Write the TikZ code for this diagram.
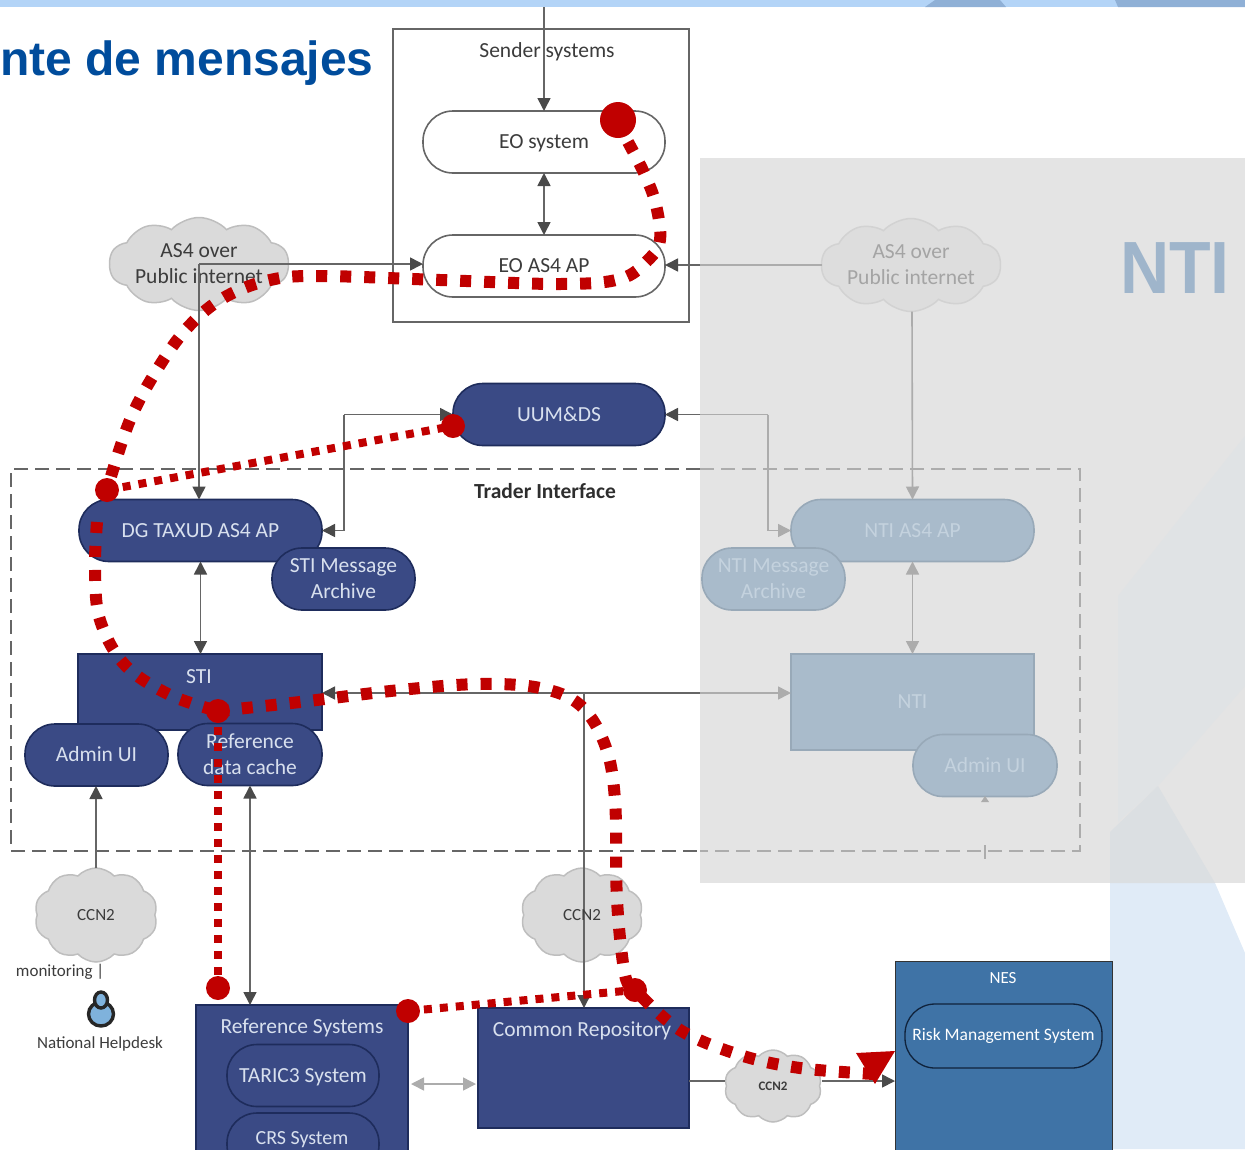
\documentclass[tikz,border=0pt]{standalone}
\usepackage{fontspec}
\setmainfont{Carlito}
\newfontfamily\headfont{Liberation Sans}
\newfontfamily\ntifont{Liberation Sans}[FakeStretch=0.92]
\usetikzlibrary{arrows.meta,shapes.symbols,shapes.geometric}
\definecolor{navy}{HTML}{3A4A85}
\definecolor{navyedge}{HTML}{1E2C5C}
\definecolor{navytext}{HTML}{D8E0EE}
\definecolor{faded}{HTML}{A9BBCB}
\definecolor{fadededge}{HTML}{98A9B8}
\definecolor{fadedtext}{HTML}{C4D2DE}
\definecolor{linedark}{HTML}{666666}
\definecolor{linelight}{HTML}{ACACAC}
\definecolor{tipdark}{HTML}{4A4A4A}
\definecolor{ink}{HTML}{3C3C3C}
\definecolor{redflow}{HTML}{C00000}
\definecolor{panel}{HTML}{E4E4E4}
\definecolor{palesky}{HTML}{E0EBF7}
\definecolor{nesblue}{HTML}{3F73A6}
\definecolor{cloudedge}{HTML}{BEBEBE}
\definecolor{cloudfill}{HTML}{DADADA}
\definecolor{cloudfade}{HTML}{DDDDDD}
\definecolor{cloudfadeedge}{HTML}{D2D2D2}
\definecolor{cloudfadetext}{HTML}{A4A4A4}
\definecolor{band}{HTML}{B3D4F7}
\definecolor{banddark}{HTML}{8FB0D6}
\definecolor{tinta}{HTML}{E0E3E5}
\definecolor{tintb}{HTML}{DBDFE2}
\definecolor{titleblue}{HTML}{004C9C}
\definecolor{ntiblue}{HTML}{9FB5CB}
\definecolor{nesedge}{HTML}{333333}
\definecolor{riskedge}{HTML}{10233C}
\definecolor{traderink}{HTML}{2E2E2E}
\definecolor{iconblue}{HTML}{7FB2DC}
\definecolor{iconedge}{HTML}{262626}
\tikzset{
  basefont/.style={font=\fontsize{21.5}{26}\selectfont, align=center, inner sep=0pt, outer sep=0pt},
  oneline/.style={text height=18.5pt, text depth=5pt},
  pill/.style={basefont, rounded corners=30pt, minimum width=#1, minimum height=62pt},
  whitepill/.style={pill=#1, draw=linedark, line width=1.6pt, fill=white, text=ink},
  navypill/.style={pill=#1, draw=navyedge, line width=1.6pt, fill=navy, text=navytext},
  fadepill/.style={pill=#1, draw=fadededge, line width=1.6pt, fill=faded, text=fadedtext},
  navybox/.style={basefont, draw=navyedge, line width=1.2pt, fill=navy, text=navytext},
  wolke/.style={basefont, shape=cloud, cloud puffs=10, cloud puff arc=95, cloud ignores aspect, draw=#1, line width=1.5pt},
  wolke/.default={cloudedge},
  darkline/.style={draw=linedark, line width=1.6pt},
  lightline/.style={draw=linelight, line width=1.6pt},
  oneway/.style={-{Triangle[length=13pt,width=13pt,color=tipdark]}},
  twoway/.style={{Triangle[length=13pt,width=13pt,color=tipdark]}-{Triangle[length=13pt,width=13pt,color=tipdark]}},
  onefade/.style={-{Triangle[length=13pt,width=13pt,color=linelight]}},
  twofade/.style={{Triangle[length=13pt,width=13pt,color=linelight]}-{Triangle[length=13pt,width=13pt,color=linelight]}},
  thickflow/.style={draw=redflow, line width=12pt, dash pattern=on 11pt off 13pt},
  thinflow/.style={draw=redflow, line width=8pt, dash pattern=on 8pt off 8pt},
  spot/.style={circle, fill=redflow, inner sep=0pt, minimum size=24pt},
  bigspot/.style={circle, fill=redflow, inner sep=0pt, minimum size=36pt},
}
\begin{document}
\begin{tikzpicture}[x=1pt,y=-1pt]
\useasboundingbox (0,0) rectangle (1245,1149);
\clip (0,0) rectangle (1245,1149);
% page background
\fill[palesky] (1110,883) -- (1215,883) -- (1245,953) -- (1245,1149) -- (1110,1149) -- cycle;
\fill[band] (0,0) rectangle (1245,7);
\fill[banddark] (925,7) -- (935,0) -- (1000,0) -- (1006,7) -- cycle;
\fill[banddark] (1118,7) -- (1115,0) -- (1245,0) -- (1245,7) -- cycle;
\fill[panel] (700,158) rectangle (1245,883);
\fill[tinta] (1118,596) -- (1245,436) -- (1245,686) -- (1158,786) -- (1118,822) -- cycle;
\fill[tintb] (1110,883) -- (1110,832) -- (1158,786) -- (1215,883) -- cycle;
% title
\node[anchor=base west, inner sep=0pt, font=\headfont\bfseries\fontsize{48}{52}\selectfont, text=titleblue] (title) at (0,75) {nte de mensajes};
\node[anchor=base, inner sep=0pt, font=\ntifont\bfseries\fontsize{74}{80}\selectfont, text=ntiblue] (ntititle) at (1175,293) {NTI};
% sender systems
\node[draw=linedark, line width=2pt, minimum width=296pt, minimum height=293pt, inner sep=0pt] (sender) at (541,175) {};
\node[basefont, oneline, text=ink] (senderlabel) at (547,51) {Sender systems};
\node[whitepill=242pt, oneline] (eosys) at (544,142) {EO system};
\node[whitepill=242pt, oneline] (eoas) at (544,266) {EO AS4 AP};
% clouds
\node[wolke, fill=cloudfill, minimum width=177pt, minimum height=93pt, text=ink] (publ) at (199,264) {AS4 over\\Public internet};
\node[wolke=cloudfadeedge, fill=cloudfade, minimum width=179pt, minimum height=93pt, text=cloudfadetext] (pubr) at (911,265) {AS4 over\\Public internet};
\node[wolke, fill=cloudfill, minimum width=123pt, minimum height=94pt, font=\fontsize{17}{20}\selectfont, text=ink] (ccna) at (96,915) {CCN2};
\node[wolke, fill=cloudfill, minimum width=122pt, minimum height=94pt] (ccnb) at (582,915) {};
\node[wolke, fill=cloudfill, minimum width=97pt, minimum height=72pt, font=\fontsize{13}{16}\selectfont\bfseries, text=ink] (ccnc) at (773,1086) {CCN2};
% services
\node[navypill=212pt, oneline] (uum) at (559,414.5) {UUM\&DS};
\node[navypill=243pt, oneline] (dg) at (200.5,530.5) {DG TAXUD AS4 AP};
\node[navypill=143pt] (stiarch) at (343.5,579) {STI Message\\Archive};
\node[navybox, minimum width=244pt, minimum height=76pt, anchor=north west] (sti) at (78,654) {};
\node[basefont, oneline, text=navytext] (stilabel) at (199,677) {STI};
\node[navypill=143pt, oneline] (admin) at (96.5,755) {Admin UI};
\node[navypill=144pt] (refcache) at (250,754.5) {Reference\\data cache};
% reference systems
\node[navybox, minimum width=212pt, minimum height=155pt, anchor=north west] (refsys) at (196,1005) {};
\node[basefont, oneline, text=navytext] (refsyslabel) at (302,1027) {Reference Systems};
\node[navypill=152pt, oneline] (taric) at (303,1075.5) {TARIC3 System};
\node[navypill=152pt] (crs) at (303,1144) {};
\node[basefont, anchor=base, text=navytext, font=\fontsize{20}{24}\selectfont] (crslabel) at (302,1144) {CRS System};
\node[navybox, minimum width=211pt, minimum height=120pt, anchor=north west] (common) at (478,1008) {};
\node[basefont, oneline, text=navytext] (commonlabel) at (582,1030) {Common Repository};
% NES
\node[draw=nesedge, line width=1.2pt, fill=nesblue, minimum width=217pt, minimum height=220pt, anchor=north west, inner sep=0pt] (nes) at (895,961) {};
\node[basefont, font=\fontsize{17}{20}\selectfont, text=white] (neslabel) at (1003,978) {NES};
\node[pill=197pt, draw=riskedge, line width=1.3pt, fill=nesblue, text=white, minimum height=64pt, font=\fontsize{17.5}{20}\selectfont] (risk) at (1003.5,1036) {Risk Management System};
% NTI side
\node[fadepill=243pt, oneline] (ntiap) at (912.5,530.5) {NTI AS4 AP};
\node[fadepill=143pt] (ntiarch) at (773.5,579) {NTI Message\\Archive};
\node[basefont, draw=fadededge, line width=1.6pt, fill=faded, text=fadedtext, minimum width=243pt, minimum height=96pt, anchor=north west] (nti) at (791,654) {NTI};
\node[fadepill=144pt, oneline] (ntiadmin) at (985,765.5) {Admin UI};
% dashed frame
\draw[linedark, line width=1.6pt, dash pattern=on 14pt off 7pt] (700,469) -- (11,469) -- (11,851) -- (700,851);
\draw[linelight, line width=1.6pt, dash pattern=on 14pt off 7pt] (700,469) -- (1080,469) -- (1080,851) -- (700,851);
\node[basefont, oneline, font=\fontsize{21.5}{26}\selectfont\bfseries, text=traderink] (trader) at (545,492) {Trader Interface};
\node[basefont, anchor=west, font=\fontsize{17}{20}\selectfont, text=ink] (monit) at (16,972) {monitoring |};
\node[basefont, font=\fontsize{17}{20}\selectfont, text=ink] (helpdesk) at (100,1044) {National Helpdesk};
% person icon
\fill[iconblue, draw=iconedge, line width=3.4pt] (101,1014) ellipse (12.5pt and 12pt);
\fill[iconblue, draw=iconedge, line width=3.4pt] (101,1000) ellipse (6.5pt and 8pt);
% connectors
\coordinate (feed) at (544,7);
\draw[darkline, oneway] (feed) -- (eosys.north);
\draw[darkline, twoway] (eosys.south) -- (eoas.north);
\draw[darkline, oneway] (publ.center) -- (publ.center -| eoas.west);
\draw[darkline, oneway] (publ.center) -- (publ.center |- dg.north);
\coordinate (pr1) at (700,265);
\draw[lightline] (pubr.west) -- (pr1);
\draw[darkline, oneway] (pr1) -- (pr1 -| eoas.east);
\draw[lightline, onefade] (pubr.south) ++(1,0) -- (ntiap.north);
\coordinate (uk) at (344,414.5);
\draw[darkline, oneway] (uk) -- (uum.west);
\draw[darkline, oneway] (uk) -- (uk |- dg.east) -- (dg.east);
\coordinate (uc) at (768,414.5);
\coordinate (ud) at (700,414.5);
\draw[lightline] (ud) -- (uc);
\draw[darkline, oneway] (ud) -- (uum.east);
\draw[lightline, onefade] (uc) -- (uc |- ntiap.west) -- (ntiap.west);
\draw[darkline, twoway] (dg.south) -- (dg.south |- sti.north);
\draw[lightline, twofade] (ntiap.south) -- (ntiap.south |- nti.north);
\draw[darkline, oneway] (ccna.north) -- (ccna.north |- admin.south);
\draw[darkline, twoway] (refcache.south) -- (refcache.south |- refsys.north);
\coordinate (junction) at (584,693);
\coordinate (pd) at (700,693);
\draw[darkline, oneway] (junction) -- (junction -| sti.east);
\draw[darkline, oneway] (junction) -- (junction |- common.north);
\draw[darkline] (junction) -- (pd);
\draw[lightline, onefade] (pd) -- (pd -| nti.west);
\node[basefont, font=\fontsize{17}{20}\selectfont, text=ink] (ccnblabel) at (ccnb) {CCN2};
\coordinate (ga) at (411,1084);
\coordinate (gb) at (476,1084);
\draw[lightline, twofade] (ga) -- (gb);
\coordinate (ca) at (689,1081);
\coordinate (cb) at (725,1081);
\coordinate (cc) at (822,1081);
\coordinate (cd) at (895,1081);
\draw[darkline] (ca) -- (cb);
\draw[darkline, oneway] (cc) -- (cd);
\fill[linelight] (985,796) -- (989,802) -- (981,802) -- cycle;
\draw[linelight, line width=1.6pt] (985,845) -- (985,859);
% flow
\coordinate (r1) at (618,120);
\coordinate (r2) at (107,490);
\coordinate (r3) at (453,426);
\coordinate (r4) at (218,711);
\coordinate (r5) at (218,988);
\coordinate (r6) at (408,1011);
\coordinate (r7) at (635,990);
\draw[thickflow] plot[smooth, tension=0.6] coordinates {(628,142) (645,175) (656,205) (660,240) (648,260) (620,279) (560,284) (440,280) (320,276) (270,280) (225,297) (190,325) (160,365) (130,420) (r2)};
\draw[thickflow] plot[smooth, tension=0.6] coordinates {(97,522) (95,570) (100,620) (125,665) (170,695) (r4)};
\draw[thickflow] plot[smooth, tension=0.6] coordinates {(r4) (300,702) (400,690) (480,684) (540,688) (580,705) (605,745) (615,800) (617,900) (625,975) (r7)};
\draw[thickflow, dash phase=14pt] plot[smooth, tension=0.6] coordinates {(r7) (680,1030) (740,1055) (800,1068) (874,1074)};
\fill[redflow] (856,1053) -- (895,1051) -- (875,1084) -- cycle;
\draw[thinflow] (r2) -- (r3);
\draw[thinflow] (r4) -- (r5);
\draw[thinflow] (r6) -- (r7);
\node[bigspot] (s1) at (r1) {};
\node[spot] (s2) at (r2) {};
\node[spot] (s3) at (r3) {};
\node[spot] (s4) at (r4) {};
\node[spot] (s5) at (r5) {};
\node[spot] (s6) at (r6) {};
\node[spot] (s7) at (r7) {};
\end{tikzpicture}
\end{document}
